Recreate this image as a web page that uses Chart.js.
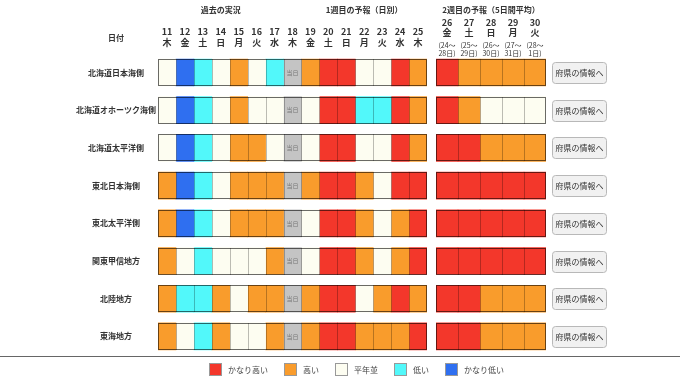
<!DOCTYPE html>
<html><head><meta charset="utf-8">
<script src="https://cdn.jsdelivr.net/npm/chart.js@4.4.1/dist/chart.umd.min.js"></script>
<style>
html,body{margin:0;padding:0;background:#fff;width:680px;height:382px;overflow:hidden;}
#wrap{position:relative;width:680px;height:382px;background:#fff;}
canvas{position:absolute;left:0;top:0;}
#sep{position:absolute;left:0;top:356px;width:680px;height:1px;background:#666;}
#legend{position:absolute;left:209px;top:362px;height:14px;display:flex;align-items:center;font:8px 'Noto Sans CJK JP','Noto Sans',sans-serif;color:#444;}
.li{display:flex;align-items:center;margin-right:16px;}
.sw{width:13px;height:13px;border:1px solid #999;margin-right:6px;box-sizing:border-box;}
</style></head>
<body><div id="wrap">
<canvas id="cA" width="680" height="382"></canvas>
<canvas id="cB" width="680" height="382"></canvas>
<div id="sep"></div>
<div id="legend"></div>
</div>
<script>
// ---------- data ----------
const regions = ['北海道日本海側','北海道オホーツク海側','北海道太平洋側','東北日本海側','東北太平洋側','関東甲信地方','北陸地方','東海地方'];
const days = ['11','12','13','14','15','16','17','18','19','20','21','22','23','24','25'];
const weekdays = ['木','金','土','日','月','火','水','木','金','土','日','月','火','水','木'];
const week2Days = ['26','27','28','29','30'];
const week2Weekdays = ['金','土','日','月','火'];
const week2RangeStart = ['(24～','(25～','(26～','(27～','(28～'];
const week2RangeEnd = ['28日)','29日)','30日)','31日)','1日)'];
const groupTitles = ['過去の実況','1週目の予報（日別）','2週目の予報（5日間平均）'];
const dateHeader = '日付';
const todayLabel = '当日';
const buttonLabel = '府県の情報へ';
// levels: 2=かなり高い 1=高い 0=平年並 -1=低い -2=かなり低い, null=当日
const levels = [2,1,0,-1,-2];
const levelNames = ['かなり高い','高い','平年並','低い','かなり低い'];
// daily values (11..25)
const hokkaidoJapanSea = [0,-2,-1,0,1,0,-1,null,1,2,2,0,0,2,1];
const hokkaidoOkhotsk  = [0,-2,-1,0,1,0,0,null,0,2,2,-1,-1,2,1];
const hokkaidoPacific  = [0,-2,-1,0,1,1,0,null,0,2,2,0,0,2,1];
const tohokuJapanSea   = [1,-2,-1,0,1,1,1,null,1,2,2,1,0,2,2];
const tohokuPacific    = [1,-2,-1,0,1,1,1,null,0,2,2,1,0,1,2];
const kantoKoshin      = [1,0,-1,0,0,0,1,null,0,2,2,1,0,1,2];
const hokuriku         = [1,-1,-1,1,0,1,1,null,1,2,2,0,1,2,1];
const tokai            = [1,0,-1,1,0,0,1,null,1,2,2,1,1,1,2];
// week 2 (5-day mean, 26..30)
const w2HokkaidoJapanSea = [2,1,1,1,1];
const w2HokkaidoOkhotsk  = [2,1,0,0,0];
const w2HokkaidoPacific  = [2,2,1,1,1];
const w2TohokuJapanSea   = [2,2,2,2,2];
const w2TohokuPacific    = [2,2,2,2,2];
const w2KantoKoshin      = [2,2,2,2,2];
const w2Hokuriku         = [2,2,1,1,1];
const w2Tokai            = [2,2,1,1,1];

const dailyRows = [hokkaidoJapanSea,hokkaidoOkhotsk,hokkaidoPacific,tohokuJapanSea,tohokuPacific,kantoKoshin,hokuriku,tokai];
const week2Rows = [w2HokkaidoJapanSea,w2HokkaidoOkhotsk,w2HokkaidoPacific,w2TohokuJapanSea,w2TohokuPacific,w2KantoKoshin,w2Hokuriku,w2Tokai];

// ---------- styles ----------
const FONT = "'Noto Sans CJK JP','Noto Sans',sans-serif";
const LEVEL_COLORS = {'2':'#f3372b','1':'#f99c2c','0':'#fdfdf1','-1':'#52f8fa','-2':'#2f6ff0'};
const TODAY_COLOR = '#c4c4c4';
const fillFor = v => v === null ? TODAY_COLOR : LEVEL_COLORS[String(v)];

// legend (HTML)
const lg = document.getElementById('legend');
levels.forEach((lv,i)=>{
  const it = document.createElement('div'); it.className='li';
  const sw = document.createElement('div'); sw.className='sw'; sw.style.background = fillFor(lv);
  const tx = document.createElement('span'); tx.textContent = levelNames[i];
  it.appendChild(sw); it.appendChild(tx); lg.appendChild(it);
});

// ---------- plugins ----------
const cellLines = {
  id:'cellLines',
  afterDatasetsDraw(chart){
    const ctx = chart.ctx;
    const metas = chart.getSortedVisibleDatasetMetas();
    const n = chart.data.labels.length;
    ctx.save();
    ctx.lineWidth = 1;
    for (let i=0;i<n;i++){
      const bars = metas.map(m=>m.data[i]);
      const f = bars[0], l = bars[bars.length-1];
      const top = Math.round(f.y - f.height/2), bottom = Math.round(f.y + f.height/2);
      const left = Math.round(Math.min(f.base,f.x)), right = Math.round(Math.max(l.base,l.x));
      ctx.strokeStyle = 'rgba(0,0,0,0.26)';
      for (let k=1;k<bars.length;k++){
        const x = Math.round(Math.min(bars[k].base,bars[k].x)) + 0.5;
        ctx.beginPath(); ctx.moveTo(x,top); ctx.lineTo(x,bottom); ctx.stroke();
      }
      ctx.strokeStyle = 'rgba(0,0,0,0.58)';
      ctx.strokeRect(left+0.5, top+0.5, right-left-1, bottom-top-1);
    }
    ctx.restore();
  }
};

const todayText = {
  id:'todayText',
  afterDatasetsDraw(chart){
    const ctx = chart.ctx;
    const metas = chart.getSortedVisibleDatasetMetas();
    ctx.save();
    ctx.font = '6px ' + FONT; ctx.fillStyle = '#777'; ctx.textAlign='center'; ctx.textBaseline='middle';
    dailyRows.forEach((row,i)=>{
      row.forEach((v,j)=>{
        if (v === null){
          const b = metas[j].data[i];
          ctx.fillText(todayLabel, (b.x+b.base)/2, b.y);
        }
      });
    });
    ctx.restore();
  }
};

const headerA = {
  id:'headerA',
  afterDraw(chart){
    const ctx = chart.ctx, s = chart.scales.xTop;
    ctx.save();
    ctx.font = 'bold 8px ' + FONT; ctx.fillStyle = '#333'; ctx.textAlign='center'; ctx.textBaseline='middle';
    ctx.fillText(groupTitles[0], (s.getPixelForValue(0)+s.getPixelForValue(6))/2, 10);
    ctx.fillText(groupTitles[1], (s.getPixelForValue(8)+s.getPixelForValue(14))/2, 10);
    ctx.fillText(dateHeader, chart.scales.y.right - 42, 37.5);
    ctx.restore();
  }
};

const headerB = {
  id:'headerB',
  afterDraw(chart){
    const ctx = chart.ctx, ca = chart.chartArea, y = chart.scales.y;
    ctx.save();
    ctx.font = 'bold 8px ' + FONT; ctx.fillStyle = '#333'; ctx.textAlign='center'; ctx.textBaseline='middle';
    ctx.fillText(groupTitles[2], (ca.left+ca.right)/2, 10);
    // buttons
    const bx = ca.right + 6, bw = 54, bh = 21;
    regions.forEach((r,i)=>{
      const cy = y.getPixelForValue(i);
      const top = Math.round(cy - bh/2);
      ctx.beginPath();
      ctx.roundRect(bx+0.5, top+0.5, bw, bh, 3);
      ctx.fillStyle = '#f1f1f1'; ctx.fill();
      ctx.strokeStyle = '#b8b8b8'; ctx.lineWidth = 1; ctx.stroke();
      ctx.font = '8px ' + FONT; ctx.fillStyle = '#333';
      ctx.fillText(buttonLabel, bx + bw/2 + 0.5, top + bh/2 + 0.5);
    });
    ctx.restore();
  }
};

// ---------- charts ----------
const CHART_TOP = 53.64;
const PAD_BOTTOM = 26.7;
const BAR_H = 27;

const dailyDatasets = days.map((d,j)=>({
  label: d,
  data: regions.map(()=>1),
  backgroundColor: dailyRows.map(r=>fillFor(r[j])),
  borderWidth: 0,
  barThickness: BAR_H,
  xAxisID:'x', yAxisID:'y'
}));

const week2Datasets = week2Days.map((d,j)=>({
  label: d,
  data: regions.map(()=>1),
  backgroundColor: week2Rows.map(r=>fillFor(r[j])),
  borderWidth: 0,
  barThickness: BAR_H,
  xAxisID:'x', yAxisID:'y'
}));

new Chart(document.getElementById('cA'), {
  type:'bar',
  data:{labels: regions, datasets: dailyDatasets},
  options:{
    indexAxis:'y', responsive:false, animation:false, devicePixelRatio:1,
    layout:{padding:{left:0,right:253,top:0,bottom:PAD_BOTTOM}},
    plugins:{legend:{display:false}, tooltip:{enabled:false}},
    scales:{
      x:{type:'linear', stacked:true, min:0, max:days.length, display:false},
      xTop:{type:'category', axis:'x', position:'top', offset:true,
        labels: days.map((d,i)=>[d, weekdays[i]]),
        grid:{display:false, drawTicks:false}, border:{display:false},
        ticks:{font:{family:FONT,size:9,weight:'bold',lineHeight:1.2}, color:'#333', padding:5.6, maxRotation:0, autoSkip:false},
        afterFit(s){ s.height = CHART_TOP; }},
      y:{type:'category', stacked:true, grid:{display:false, drawTicks:false}, border:{display:false},
        ticks:{font:{family:FONT,size:8,weight:'bold'}, color:'#333', crossAlign:'center', padding:2, autoSkip:false},
        afterFit(s){ s.width = 158; }}
    }
  },
  plugins:[cellLines, todayText, headerA]
});

new Chart(document.getElementById('cB'), {
  type:'bar',
  data:{labels: regions, datasets: week2Datasets},
  options:{
    indexAxis:'y', responsive:false, animation:false, devicePixelRatio:1,
    layout:{padding:{left:436,right:134,top:0,bottom:PAD_BOTTOM}},
    plugins:{legend:{display:false}, tooltip:{enabled:false}},
    scales:{
      x:{type:'linear', stacked:true, min:0, max:week2Days.length, display:false},
      xd:{type:'category', axis:'x', position:'top', offset:true, weight:1,
        labels: week2Days.map((d,i)=>[d, week2Weekdays[i]]),
        grid:{display:false, drawTicks:false}, border:{display:false},
        ticks:{font:{family:FONT,size:9,weight:'bold',lineHeight:1.111}, color:'#333', padding:0, maxRotation:0, autoSkip:false},
        afterFit(s){ s.height = 37.5; }},
      xr:{type:'category', axis:'x', position:'top', offset:true, weight:0,
        labels: week2Days.map((d,i)=>[week2RangeStart[i], week2RangeEnd[i]]),
        grid:{display:false, drawTicks:false}, border:{display:false},
        ticks:{font:{family:FONT,size:7,lineHeight:1.25}, color:'#333', padding:-4.4, maxRotation:0, autoSkip:false},
        afterFit(s){ s.height = CHART_TOP - 37.5; s._computeLabelArea = () => undefined; }},
      y:{type:'category', stacked:true, display:false}
    }
  },
  plugins:[cellLines, headerB]
});
</script>
</body></html>
